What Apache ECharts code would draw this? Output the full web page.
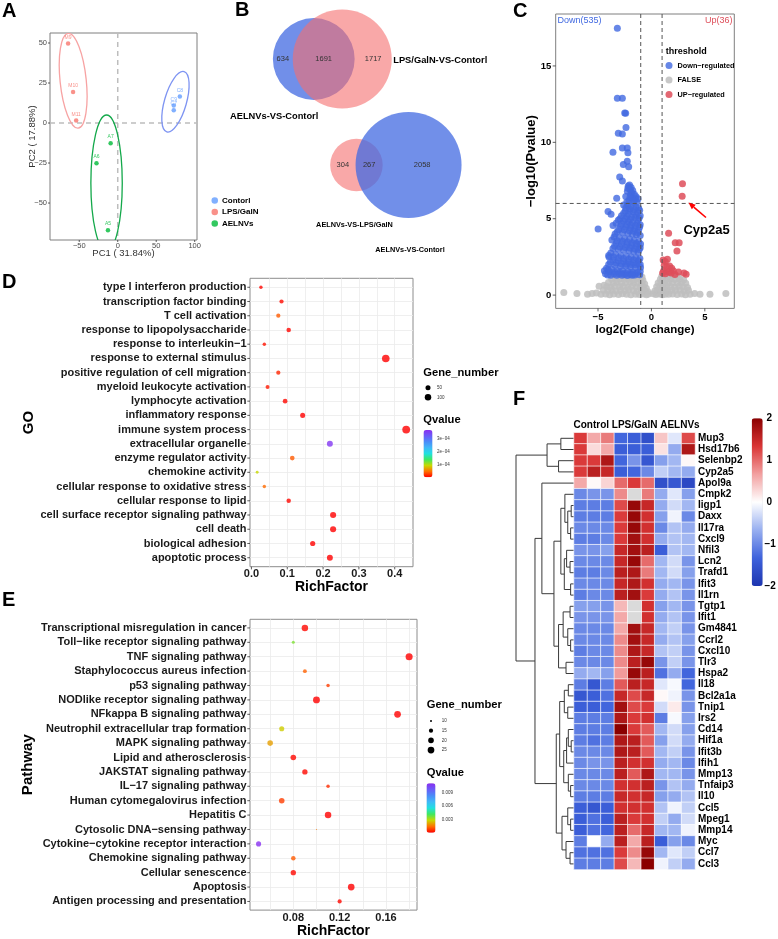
<!DOCTYPE html>
<html>
<head>
<meta charset="UTF-8">
<title>Transcriptome figure</title>
<script src="https://cdn.jsdelivr.net/npm/echarts@6.0.0/dist/echarts.min.js"></script>
<style>
  html, body { margin: 0; padding: 0; background: #fff; }
  #main { width: 778px; height: 939px; }
</style>
</head>
<body>
<div id="main"></div>
<script>
// ---------- A: PCA ----------
var pcaControl = [[80.7, 16.5, 'C8'], [72.8, 11.0, 'C9'], [72.8, 8.0, 'C7']];
var pcaLPS = [[-64.5, 49.7, 'M9'], [-58.0, 19.4, 'M10'], [-54.0, 1.5, 'M11']];
var pcaAEL = [[-9.2, -12.7, 'A7'], [-27.6, -25.2, 'A6'], [-12.7, -67.0, 'A5']];
// confidence ellipses: centre PC1, centre PC2, half width (PC1), half height (PC2), tilt (deg)
var pcaEllipses = [[75, 13.3, 14.3, 19.6, -16], [-57.9, 26.4, 17, 29.8, 6], [-14.5, -37.5, 20.4, 42.5, 0]];
var pcaXTicks = [-50, 0, 50, 100];
var pcaYTicks = [-50, -25, 0, 25, 50];
// reference lines: [0 = vertical at x / 1 = horizontal at y, value]
var pcaRefLines = [[0, 0], [1, 0]];

// ---------- B: Venn counts (only left, shared, only right) ----------
var vennTop = [634, 1691, 1717];
var vennBottom = [304, 267, 2058];

// ---------- C: volcano ----------
var downCount = 535, upCount = 36;
var fcCut = 1, pCut = 6;
var volcanoRefLines = [[0, -fcCut], [0, fcCut], [1, pCut]];
var volcanoDown = [
  [-3.19,17.47],[-3.19,12.88],[-2.72,12.88],[-2.5,11.92],[-2.41,11.9],[-2.38,10.97],[-3.1,10.6],[-2.72,10.55],
  [-3.6,9.35],[-2.72,9.63],[-2.26,9.63],[-2.2,9.31],[-2.63,8.55],[-2.13,8.4],[-2.26,8.76],[-2.97,7.73],
  [-2.72,7.47],[-2.17,7.14],[-2.0,6.93],[-3.25,6.34],[-4.06,5.47],[-3.78,5.3],[-4.99,4.33],[-3.59,4.55],
  [-3.4,4.0],[-3.97,2.49],[-4.06,1.67],[-3.8,1.3],
  [-2.05,7.2],[-1.9,7.05],[-2.25,6.8],[-1.75,6.85],[-1.95,6.6],[-1.6,6.6],[-2.4,6.45],[-1.8,6.35],[-1.5,6.3],
  [-2.1,6.2],[-1.35,6.1],[-1.65,6.05],
  [-2.6,5.9],[-2.2,5.85],[-1.9,5.8],[-1.45,5.75],[-1.2,5.7],[-2.45,5.5],[-2.0,5.5],[-1.7,5.45],[-1.3,5.4],
  [-2.8,5.2],[-2.3,5.15],[-1.85,5.1],[-1.55,5.1],[-1.15,5.05],
  [-3.1,4.9],[-2.6,4.85],[-2.15,4.8],[-1.75,4.75],[-1.35,4.7],[-1.05,4.6],[-2.9,4.5],[-2.4,4.45],[-1.95,4.4],
  [-1.55,4.35],[-1.2,4.25],[-3.2,4.15],[-2.7,4.1],[-2.2,4.05],[-1.8,4.0],[-1.4,3.95],[-1.05,3.9],
  [-3.5,3.8],[-3.0,3.75],[-2.5,3.7],[-2.05,3.65],[-1.6,3.6],[-1.2,3.5],[-3.3,3.4],[-2.8,3.35],[-2.3,3.3],
  [-1.85,3.25],[-1.4,3.2],[-1.05,3.1],[-3.6,3.05],[-3.1,3.0],[-2.6,2.95],[-2.1,2.9],[-1.65,2.85],[-1.25,2.8],
  [-3.8,2.75],[-3.35,2.65],[-2.85,2.6],[-2.35,2.55],[-1.9,2.5],[-1.45,2.45],[-1.08,2.4],[-3.6,2.3],[-3.1,2.25],
  [-2.6,2.2],[-2.15,2.15],[-1.7,2.1],[-1.25,2.05],[-4.0,2.0],[-3.4,1.95],[-2.9,1.9],[-2.4,1.9],[-1.95,1.85],
  [-1.5,1.8],[-1.02,1.8],
  [-4.2,1.75],[-3.7,1.7],[-3.2,1.6],[-2.7,1.6],[-2.2,1.55],[-1.75,1.5],[-1.3,1.5],[-4.3,1.4],[-3.5,1.4],
  [-3.0,1.38],[-2.5,1.35],[-2.0,1.35],[-1.55,1.32],[-1.1,1.33],
  [-2.2,7.0],[-1.85,6.7],[-1.45,6.45],[-2.0,6.4],[-1.25,6.3],[-1.7,6.2],[-2.3,6.1],
  [-2.4,5.7],[-2.05,5.65],[-1.6,5.6],[-1.1,5.55],[-2.6,5.35],[-2.15,5.3],[-1.45,5.25],[-1.05,5.2],
  [-2.95,5.0],[-2.45,4.98],[-1.95,4.95],[-1.25,4.9],
  [-3.3,4.7],[-2.8,4.65],[-2.3,4.62],[-1.9,4.58],[-1.5,4.55],[-1.1,4.45],[-3.05,4.3],[-2.55,4.28],
  [-2.05,4.22],[-1.65,4.18],[-1.3,4.1],
  [-3.7,3.6],[-3.2,3.55],[-2.7,3.52],[-2.25,3.48],[-1.8,3.42],[-1.4,3.38],[-1.02,3.35],[-3.45,3.2],
  [-2.95,3.15],[-2.45,3.12],[-2.0,3.08],[-1.55,3.02],[-1.15,2.98],
  [-4.0,2.6],[-3.55,2.5],[-3.05,2.45],[-2.6,2.4],[-2.1,2.35],[-1.65,2.3],[-1.2,2.25],[-3.85,2.15],
  [-3.3,2.1],[-2.8,2.05],[-2.35,2.02],[-1.9,2.0],[-1.45,1.98],[-1.05,2.0],
  [-4.4,1.6],[-3.95,1.55],[-3.45,1.52],[-2.95,1.5],[-2.45,1.45],[-1.95,1.45],[-1.5,1.42],[-1.05,1.55],
  [-4.1,1.32],[-3.25,1.3],[-2.75,1.3],[-2.25,1.28],[-1.8,1.3]
];
var volcanoNone = [
  [-8.2,0.17],[-6.97,0.1],[-5.98,0.06],[-5.55,0.1],[-5.15,0.14],[-4.9,0.58],[-4.43,0.65],
  [-4.72,0.05],[-4.28,0.08],[-3.91,0.03],[-3.52,0.07],[-3.08,0.04],[-2.71,0.09],[-2.33,0.05],[-1.92,0.02],
  [-1.48,0.06],[-1.12,0.04],[-0.77,0.07],[-0.46,0.03],
  [-4.5,0.32],[-4.07,0.28],[-3.68,0.35],[-3.31,0.27],[-2.9,0.33],[-2.47,0.29],[-2.12,0.36],[-1.69,0.3],
  [-1.33,0.26],[-0.96,0.34],[-0.62,0.28],[-0.33,0.22],
  [-4.18,0.56],[-3.83,0.52],[-3.42,0.6],[-2.98,0.54],[-2.63,0.58],[-2.19,0.51],[-1.81,0.59],[-1.41,0.53],
  [-1.06,0.57],[-0.72,0.55],[-0.48,0.45],
  [-4.02,0.83],[-3.58,0.79],[-3.21,0.85],[-2.82,0.78],[-2.38,0.82],[-2.01,0.86],[-1.63,0.8],[-1.27,0.84],
  [-0.92,0.81],[-0.63,0.72],
  [-3.72,1.06],[-3.29,1.02],[-2.91,1.08],[-2.52,1.03],[-2.08,1.07],[-1.72,1.01],[-1.36,1.09],[-1.02,1.04],[-0.8,0.98],
  [-3.03,1.24],[-2.61,1.27],[-2.24,1.22],[-1.79,1.26],[-1.42,1.21],[-1.07,1.25],[-0.88,1.18],
  [-0.28,0.08],[0.17,0.09],
  [0.41,0.04],[0.72,0.07],[1.03,0.03],[1.31,0.06],[1.62,0.05],[1.98,0.08],[2.41,0.04],[2.83,0.07],[3.19,0.03],
  [3.62,0.06],[4.05,0.1],[4.55,0.06],[5.48,0.06],[6.97,0.1],
  [0.32,0.27],[0.58,0.33],[0.91,0.29],[1.22,0.35],[1.51,0.28],[1.88,0.32],[2.27,0.3],[2.69,0.34],[3.08,0.27],[3.47,0.31],
  [0.49,0.55],[0.81,0.6],[1.12,0.53],[1.43,0.58],[1.79,0.56],[2.18,0.52],[2.61,0.59],[2.98,0.54],[3.38,0.5],
  [0.63,0.8],[0.92,0.84],[1.21,0.78],[1.58,0.83],[1.97,0.81],[2.42,0.79],[2.81,0.85],[3.21,0.77],
  [0.84,1.04],[1.07,1.08],[1.39,1.02],[1.82,1.06],[2.21,1.03],[2.63,1.07],[3.02,1.01],
  [0.97,1.24],[1.23,1.27],[1.61,1.22],[2.04,1.25],[2.47,1.23]
];
var volcanoUp = [
  [2.91,7.29],[2.88,6.47],[1.61,4.05],[2.23,3.42],[2.6,3.42],[2.39,2.88],[1.1,2.3],[1.3,2.2],[1.5,2.35],
  [1.2,1.95],[1.45,1.85],[1.7,1.9],[1.9,1.75],[1.15,1.6],[1.4,1.55],[1.65,1.5],[1.85,1.45],[2.05,1.6],
  [1.3,1.4],[2.54,1.51],[3.25,1.36],[3.05,1.45],[2.2,1.35],[1.05,1.45]
];
// annotation arrow for Cyp2a5: from (x, y) to (x, y)
var cypArrow = [[5.11, 5.08, 3.47, 6.06]];
var volcanoXTicks = [-5, 0, 5];
var volcanoYTicks = [0, 5, 10, 15];

// ---------- D: GO enrichment ----------
var goTerms = ['type I interferon production', 'transcription factor binding', 'T cell activation',
  'response to lipopolysaccharide', 'response to interleukin\u22121', 'response to external stimulus',
  'positive regulation of cell migration', 'myeloid leukocyte activation', 'lymphocyte activation',
  'inflammatory response', 'immune system process', 'extracellular organelle', 'enzyme regulator activity',
  'chemokine activity', 'cellular response to oxidative stress', 'cellular response to lipid',
  'cell surface receptor signaling pathway', 'cell death', 'biological adhesion', 'apoptotic process'];
var goRich = [0.0265, 0.084, 0.075, 0.104, 0.036, 0.375, 0.075, 0.045, 0.094, 0.143,
  0.432, 0.219, 0.114, 0.016, 0.036, 0.104, 0.228, 0.228, 0.171, 0.219];
var goQ = [2e-6, 4e-6, 3.7e-5, 2e-6, 8e-6, 1e-9, 1.5e-5, 1e-5, 3e-6, 1e-7,
  1e-12, 3.6e-4, 3.7e-5, 9.3e-5, 4.4e-5, 3e-6, 1e-7, 1e-7, 1e-6, 1e-7];
var goCount = [15, 30, 30, 35, 15, 150, 30, 25, 40, 50, 160, 80, 40, 8, 15, 35, 85, 85, 55, 80];
var goXTicks = [0, 0.1, 0.2, 0.3, 0.4];
var goGridX = [0.05, 0.1, 0.15, 0.2, 0.25, 0.3, 0.35, 0.4];
var goSizeLegend = [50, 100];
var goQTicks = [1e-4, 2e-4, 3e-4];

// ---------- E: KEGG enrichment ----------
var keggTerms = ['Transcriptional misregulation in cancer', 'Toll\u2212like receptor signaling pathway',
  'TNF signaling pathway', 'Staphylococcus aureus infection', 'p53 signaling pathway',
  'NODlike receptor signaling pathway', 'NFkappa B signaling pathway', 'Neutrophil extracellular trap formation',
  'MAPK signaling pathway', 'Lipid and atherosclerosis', 'JAKSTAT signaling pathway', 'IL\u221217 signaling pathway',
  'Human cytomegalovirus infection', 'Hepatitis C', 'Cytosolic DNA\u2212sensing pathway',
  'Cytokine\u2212cytokine receptor interaction', 'Chemokine signaling pathway', 'Cellular senescence',
  'Apoptosis', 'Antigen processing and presentation'];
var keggRich = [0.09, 0.08, 0.18, 0.09, 0.11, 0.10, 0.17, 0.07, 0.06, 0.08,
  0.09, 0.11, 0.07, 0.11, 0.10, 0.05, 0.08, 0.08, 0.13, 0.12];
var keggQ = [0.0002, 0.0036, 0.0001, 0.0013, 0.00085, 0.0001, 0.0001, 0.0027, 0.0021, 0.0002,
  0.0002, 0.00064, 0.00085, 0.0001, 0.0016, 0.0110, 0.0012, 0.0002, 0.0001, 0.0002];
var keggCount = [24, 12, 27, 14, 13, 26, 25, 18, 20, 20, 19, 13, 20, 24, 9, 18, 16, 19, 25, 15];
var keggXTicks = [0.08, 0.12, 0.16];
var keggGridX = [0.06, 0.08, 0.10, 0.12, 0.14, 0.16, 0.18];
var keggSizeLegend = [10, 15, 20, 25];
var keggQTicks = [0.003, 0.006, 0.009];

// ---------- F: heatmap ----------
var heatSamples = ['C7', 'C8', 'C9', 'M9', 'M10', 'M11', 'A5', 'A6', 'A7'];
var heatGenes = ['Mup3', 'Hsd17b6', 'Selenbp2', 'Cyp2a5', 'Apol9a', 'Cmpk2', 'Iigp1', 'Daxx', 'Il17ra', 'Cxcl9',
  'Nfil3', 'Lcn2', 'Trafd1', 'Ifit3', 'Il1rn', 'Tgtp1', 'Ifit1', 'Gm4841', 'Ccrl2', 'Cxcl10', 'Tlr3', 'Hspa2',
  'Il18', 'Bcl2a1a', 'Tnip1', 'Irs2', 'Cd14', 'Hif1a', 'Ifit3b', 'Ifih1', 'Mmp13', 'Tnfaip3', 'Il10', 'Ccl5',
  'Mpeg1', 'Mmp14', 'Myc', 'Ccl7', 'Ccl3'];
var heatValues = [
  [1.3, 0.6, 0.9, -1.3, -1.4, -1.6, 0.4, -0.2, 1.2],
  [1.3, 0.25, 0.6, -1.4, -1.4, -1.4, 0.2, -0.7, 1.7],
  [1.3, 1.3, 1.7, -1.3, -0.9, -1.5, -0.8, -0.6, 0.05],
  [1.3, 1.6, 1.5, -1.4, -1.3, -1.0, -0.4, -0.6, -0.7],
  [0.6, 0.05, 0.3, 1.0, 1.3, 1.0, -1.6, -1.5, -1.7],
  [-1.0, -0.9, -0.9, 0.8, null, 0.9, -0.7, -0.2, -0.8],
  [-1.1, -1.1, -1.1, 1.2, 1.9, 1.5, -0.7, -0.3, -0.6],
  [-1.1, -1.1, -1.1, 1.3, 1.9, 1.4, -0.8, -0.1, -1.0],
  [-1.0, -1.0, -1.0, 1.3, 1.9, 1.4, -1.0, -0.5, -0.7],
  [-1.1, -1.1, -1.0, 1.3, 1.8, 1.4, -0.7, -0.5, -0.6],
  [-0.9, -0.9, -0.8, 1.5, 1.8, 1.6, -1.4, -0.5, -0.6],
  [-1.0, -1.0, -1.0, 1.5, 1.9, 1.0, -0.6, -0.3, -0.9],
  [-1.1, -1.1, -1.0, 1.6, 1.7, 0.9, -0.6, -0.3, -0.8],
  [-1.0, -1.0, -1.0, 1.5, 1.7, 1.4, -0.7, -0.6, -0.9],
  [-1.1, -1.0, -1.0, 1.6, 1.8, 1.3, -0.7, -0.5, -0.9],
  [-0.8, -0.8, -0.9, 0.5, null, 1.4, -0.8, -0.6, -0.9],
  [-0.9, -0.9, -0.9, 0.6, null, 1.4, -0.7, -0.5, -0.9],
  [-1.0, -1.0, -1.0, 0.6, 1.8, 1.5, -0.6, -0.4, -0.9],
  [-1.0, -1.0, -1.0, 0.8, 1.8, 1.5, -0.7, -0.5, -0.8],
  [-1.1, -1.0, -1.0, 0.8, 1.7, 1.5, -0.5, -0.4, -0.9],
  [-1.0, -1.0, -1.0, 0.8, 1.6, 1.9, -0.9, -0.4, -0.9],
  [-0.7, -0.6, -0.8, 0.7, 1.9, 1.6, -1.2, -0.7, -1.3],
  [-1.1, -1.5, -1.1, 1.1, 1.6, 1.5, -0.2, -0.05, -1.3],
  [-1.5, -1.4, -1.2, 1.5, 1.2, 1.5, 0.05, -0.1, -0.9],
  [-1.4, -1.4, -1.3, 1.8, 1.2, 1.3, -0.3, 0.15, -0.9],
  [-1.1, -1.1, -1.1, 1.7, 1.3, 1.4, -1.1, -0.05, -0.8],
  [-1.1, -1.1, -1.1, 2.0, 1.3, 1.1, -0.6, -0.3, -0.8],
  [-1.1, -1.2, -1.1, 1.7, 1.6, 1.1, -0.8, -0.3, -0.7],
  [-1.0, -1.0, -1.0, 1.7, 1.6, 1.1, -0.6, -0.4, -0.9],
  [-1.0, -0.9, -0.9, 1.6, 1.4, 1.4, -0.7, -0.6, -1.0],
  [-1.0, -1.0, -1.0, 1.6, 1.1, 1.7, -0.6, -0.6, -0.9],
  [-1.0, -1.0, -1.0, 1.4, 1.4, 1.6, -0.9, -0.5, -0.7],
  [-1.1, -1.1, -1.1, 1.5, 1.4, 1.5, -0.8, -0.7, -0.5],
  [-1.4, -1.5, -1.4, 1.4, 1.4, 1.4, -0.5, -0.1, -0.4],
  [-1.4, -1.2, -1.4, 1.6, 1.3, 1.4, -0.4, -0.7, -0.3],
  [-1.4, -1.2, -1.3, 1.6, 1.0, 1.5, -0.6, -0.6, -0.1],
  [-1.1, 0.0, -0.7, 1.6, 0.6, 1.6, -1.4, -0.8, -1.0],
  [-1.2, -1.2, -1.2, 1.3, 0.8, 1.9, -0.6, -0.2, -0.4],
  [-1.1, -1.1, -1.1, 1.2, 0.5, 2.0, -0.1, -0.4, -0.7]
];
var heatTicks = [-2, -1, 0, 1, 2];
// row clustering: [child, child, height]; a string is a gene, a number an earlier merge
var dendroMerges = [
  ['Mup3', 'Hsd17b6', 2.2], ['Selenbp2', 'Cyp2a5', 2.6], [0, 1, 4.6],
  ['Iigp1', 'Daxx', 0.4], ['Il17ra', 'Cxcl9', 0.5], [3, 4, 1.0], ['Cmpk2', 5, 1.5],
  ['Lcn2', 'Trafd1', 0.6], ['Nfil3', 7, 1.2], ['Ifit3', 'Il1rn', 0.5], [8, 9, 1.6], [6, 10, 2.2],
  ['Tgtp1', 'Ifit1', 0.6], ['Ccrl2', 'Cxcl10', 0.5], ['Gm4841', 13, 1.0], [12, 14, 1.8],
  ['Tlr3', 'Hspa2', 1.3], [15, 16, 2.6], [11, 17, 3.4], ['Apol9a', 18, 5.5],
  ['Il18', 'Bcl2a1a', 0.9], ['Tnip1', 'Irs2', 1.0], [20, 21, 1.6],
  ['Hif1a', 'Ifit3b', 0.4], ['Cd14', 23, 0.9], [24, 'Ifih1', 1.2],
  ['Tnfaip3', 'Il10', 0.5], ['Mmp13', 26, 0.9], [25, 27, 1.7], [22, 28, 2.4],
  ['Mpeg1', 'Mmp14', 0.5], ['Ccl5', 30, 1.0], ['Ccl7', 'Ccl3', 0.6], ['Myc', 32, 1.3],
  [31, 33, 2.0], [29, 34, 3.0], [19, 35, 6.7], [2, 36, 10]
];

// ---------- helpers ----------
var FONT = '"Liberation Sans", Arial, Helvetica, sans-serif';
var qColors = ['#FF0000', '#FF7000', '#C8D800', '#40E860', '#20E0E0', '#40B8F8', '#4A8CF8', '#6A5CF8', '#8A2EF0'];
var heatColors = ['#1d35b0', '#3e62dc', '#98aff0', '#ffffff', '#f2a0a0', '#d93535', '#8b0000'];
var ellipseColors = ['#7E94F2', '#F7A3A3', '#13A84A'];

function goSize(n) { return 1.5 + 0.5 * Math.sqrt(n); }
function keggSize(n) { return Math.sqrt(Math.max(1, 2.73 * n - 23.3)); }
function minus(v) { return String(v).replace('-', '\u2212'); }
function indexList(arr) { return arr.map(function (t, i) { return i; }); }

function txt(text, x, y, size, bold, color, align) {
  return {
    type: 'text', x: x, y: y, silent: true,
    style: {
      text: text, fontSize: size, fontWeight: bold ? 'bold' : 'normal', fontFamily: FONT,
      fill: color || '#000', align: align || 'left', verticalAlign: 'middle',
      textAlign: align || 'left', textVerticalAlign: 'middle'
    }
  };
}

function lensArea(r1, r2, d) {
  if (d >= r1 + r2) return 0;
  if (d <= Math.abs(r1 - r2)) return Math.PI * Math.pow(Math.min(r1, r2), 2);
  var a1 = Math.acos((d * d + r1 * r1 - r2 * r2) / (2 * d * r1));
  var a2 = Math.acos((d * d + r2 * r2 - r1 * r1) / (2 * d * r2));
  var k = Math.sqrt((-d + r1 + r2) * (d + r1 - r2) * (d - r1 + r2) * (d + r1 + r2));
  return r1 * r1 * a1 + r2 * r2 * a2 - 0.5 * k;
}
function vennDistance(r1, r2, area) {
  var lo = Math.abs(r1 - r2), hi = r1 + r2;
  for (var i = 0; i < 60; i++) {
    var mid = (lo + hi) / 2;
    if (lensArea(r1, r2, mid) > area) lo = mid; else hi = mid;
  }
  return (lo + hi) / 2;
}
// area proportional two-set venn, placed around the midpoint of the two centres
function venn(counts, midX, cy, maxR, leftColor, rightColor) {
  var sizeL = counts[0] + counts[1], sizeR = counts[1] + counts[2];
  var k = maxR / Math.sqrt(Math.max(sizeL, sizeR));
  var rL = k * Math.sqrt(sizeL), rR = k * Math.sqrt(sizeR);
  var d = vennDistance(rL, rR, Math.PI * k * k * counts[1]);
  var xL = midX - d / 2, xR = midX + d / 2;
  var els = [
    { type: 'circle', silent: true, shape: { cx: xL, cy: cy, r: rL }, style: { fill: leftColor } },
    { type: 'circle', silent: true, shape: { cx: xR, cy: cy, r: rR }, style: { fill: rightColor } }
  ];
  var xs = [((xL - rL) + (xR - rR)) / 2, ((xR - rR) + (xL + rL)) / 2, ((xL + rL) + (xR + rR)) / 2];
  counts.forEach(function (c, i) { els.push(txt(String(c), xs[i], cy, 7.5, false, '#333', 'center')); });
  return { els: els, xL: xL, xR: xR, rL: rL, rR: rR };
}

function dendroNode(ref) {
  if (typeof ref === 'string') return { y: heatGenes.indexOf(ref), h: 0 };
  var m = dendroMerges[ref];
  var a = dendroNode(m[0]), b = dendroNode(m[1]);
  return { y: (a.y + b.y) / 2, h: m[2] };
}

// dashed reference lines across a panel, one per data item
function refLineSeries(gridIdx, lines, color, dash, width, z) {
  return {
    type: 'custom', xAxisIndex: gridIdx, yAxisIndex: gridIdx, silent: true, z: z, data: lines,
    renderItem: function (params, api) {
      var cs = params.coordSys;
      var vertical = api.value(0) === 0;
      var p = api.coord(vertical ? [api.value(1), 0] : [0, api.value(1)]);
      var shape = vertical
        ? { x1: p[0], y1: cs.y, x2: p[0], y2: cs.y + cs.height }
        : { x1: cs.x, y1: p[1], x2: cs.x + cs.width, y2: p[1] };
      return { type: 'line', shape: shape, style: { stroke: color, lineWidth: width, lineDash: dash } };
    }
  };
}

// ---------- layout ----------
var grids = [
  { left: 50, top: 33, width: 147, height: 207, show: true, borderColor: '#7F7F7F', borderWidth: 1 },
  { left: 555.7, top: 14, width: 178.6, height: 294.4, show: true, borderColor: '#7F7F7F', borderWidth: 1 },
  { left: 250, top: 278.3, width: 163, height: 288.4, show: true, borderColor: '#8C8C8C', borderWidth: 1 },
  { left: 250, top: 619.3, width: 167, height: 293.4, show: true, borderColor: '#8C8C8C', borderWidth: 1 },
  { left: 574, top: 432.7, width: 121, height: 436.8 },
  { left: 516, top: 432.7, width: 57.5, height: 436.8 }
];

// ---------- series ----------
var series = [];

series.push(refLineSeries(0, pcaRefLines, '#BDBDBD', [5, 4], 1.5, 1));
series.push({
  type: 'custom', name: 'ellipse', xAxisIndex: 0, yAxisIndex: 0, clip: true, silent: true, z: 1,
  data: pcaEllipses,
  renderItem: function (params, api) {
    var c = api.coord([api.value(0), api.value(1)]);
    var s = api.size([api.value(2), api.value(3)]);
    return {
      type: 'ellipse', x: c[0], y: c[1], rotation: api.value(4) * Math.PI / 180,
      shape: { cx: 0, cy: 0, rx: s[0], ry: s[1] },
      style: { fill: 'none', stroke: ellipseColors[params.dataIndex], lineWidth: 1.3 }
    };
  }
});

function pcaSeries(name, data, color) {
  return {
    name: name, type: 'scatter', xAxisIndex: 0, yAxisIndex: 0, data: data, symbolSize: 4.5, z: 3,
    itemStyle: { color: color },
    label: { show: true, position: 'top', distance: 1.5, fontSize: 5, color: color, fontFamily: FONT,
      formatter: function (p) { return p.data[2]; } }
  };
}
series.push(pcaSeries('Contorl', pcaControl, '#619CFF'));
series.push(pcaSeries('LPS/GalN', pcaLPS, '#F8766D'));
series.push(pcaSeries('AELNVs', pcaAEL, '#00BA38'));

series.push({
  name: 'FALSE', type: 'scatter', xAxisIndex: 1, yAxisIndex: 1, data: volcanoNone, symbolSize: 7,
  itemStyle: { color: '#BEBEBE', opacity: 0.85 }
});
series.push({
  name: 'Down\u2212regulated', type: 'scatter', xAxisIndex: 1, yAxisIndex: 1, data: volcanoDown, symbolSize: 7,
  itemStyle: { color: '#4169E1', opacity: 0.8 }
});
series.push({
  name: 'UP\u2212regulated', type: 'scatter', xAxisIndex: 1, yAxisIndex: 1, data: volcanoUp, symbolSize: 7,
  itemStyle: { color: '#DE4E5A', opacity: 0.85 }
});
series.push(refLineSeries(1, volcanoRefLines, '#555', [4, 3], 1, 4));
series.push({
  type: 'custom', xAxisIndex: 1, yAxisIndex: 1, silent: true, z: 5, data: cypArrow,
  renderItem: function (params, api) {
    var a = api.coord([api.value(0), api.value(1)]);
    var b = api.coord([api.value(2), api.value(3)]);
    var dx = b[0] - a[0], dy = b[1] - a[1], len = Math.sqrt(dx * dx + dy * dy);
    var ux = dx / len, uy = dy / len, head = 7, half = 3;
    var base = [b[0] - ux * head, b[1] - uy * head];
    return {
      type: 'group', children: [
        { type: 'line', shape: { x1: a[0], y1: a[1], x2: base[0], y2: base[1] }, style: { stroke: '#FF0000', lineWidth: 1.6 } },
        { type: 'polygon', shape: { points: [b, [base[0] - uy * half, base[1] + ux * half], [base[0] + uy * half, base[1] - ux * half]] },
          style: { fill: '#FF0000' } }
      ]
    };
  }
});

var goIdx = series.length;
series.push({
  type: 'scatter', xAxisIndex: 2, yAxisIndex: 2, z: 3,
  data: goTerms.map(function (t, i) { return [goRich[i], i, goQ[i], goCount[i]]; }),
  symbolSize: function (v) { return goSize(v[3]); },
  markLine: {
    silent: true, symbol: 'none', z: 1, label: { show: false },
    lineStyle: { color: '#EBEBEB', width: 0.8, type: 'solid' },
    data: goGridX.map(function (v) { return { xAxis: v }; })
      .concat(indexList(goTerms).map(function (i) { return { yAxis: i }; }))
  }
});

var keggIdx = series.length;
series.push({
  type: 'scatter', xAxisIndex: 3, yAxisIndex: 3, z: 3,
  data: keggTerms.map(function (t, i) { return [keggRich[i], i, keggQ[i], keggCount[i]]; }),
  symbolSize: function (v) { return keggSize(v[3]); },
  markLine: {
    silent: true, symbol: 'none', z: 1, label: { show: false },
    lineStyle: { color: '#EBEBEB', width: 0.8, type: 'solid' },
    data: keggGridX.map(function (v) { return { xAxis: v }; })
      .concat(indexList(keggTerms).map(function (i) { return { yAxis: i }; }))
  }
});

var heatData = [], heatNA = [];
heatValues.forEach(function (row, r) {
  row.forEach(function (v, c) {
    if (v === null) heatNA.push([c, r, 0]); else heatData.push([c, r, v]);
  });
});
var heatIdx = series.length;
series.push({
  type: 'heatmap', xAxisIndex: 4, yAxisIndex: 4, data: heatData,
  itemStyle: { borderColor: 'rgba(255,255,255,0.85)', borderWidth: 0.8 }
});
series.push({
  type: 'heatmap', xAxisIndex: 4, yAxisIndex: 4, data: heatNA,
  itemStyle: { color: '#DADADA', borderColor: 'rgba(255,255,255,0.85)', borderWidth: 0.8 }
});
series.push({
  type: 'custom', xAxisIndex: 5, yAxisIndex: 5, silent: true,
  data: dendroMerges.map(function (m, i) { return [i]; }),
  renderItem: function (params, api) {
    var m = dendroMerges[api.value(0)];
    var a = dendroNode(m[0]), b = dendroNode(m[1]);
    return {
      type: 'polyline',
      shape: { points: [api.coord([a.h, a.y]), api.coord([m[2], a.y]), api.coord([m[2], b.y]), api.coord([b.h, b.y])] },
      style: { stroke: '#3a3a3a', fill: 'none', lineWidth: 1 }
    };
  }
});

// ---------- axes ----------
// A and C axes are hidden; their labels, names and ticks are drawn below from the axis scales
function edgeLine() { return { show: true, onZero: false, lineStyle: { color: 'rgba(0,0,0,0)' } }; }
var noTick = { show: false };
var xAxes = [
  { gridIndex: 0, type: 'value', min: -88, max: 103, show: false },
  { gridIndex: 1, type: 'value', min: -8.96, max: 7.76, show: false },
  { gridIndex: 2, type: 'value', min: -0.004, max: 0.451, splitLine: { show: false }, axisLine: edgeLine(), axisTick: noTick,
    axisLabel: { customValues: goXTicks, formatter: function (v) { return v.toFixed(1); },
      fontSize: 11, fontWeight: 'bold', color: '#1A1A1A', margin: 2 },
    name: 'RichFactor', nameLocation: 'middle', nameGap: 13,
    nameTextStyle: { fontSize: 14, fontWeight: 'bold', color: '#000' } },
  { gridIndex: 3, type: 'value', min: 0.0426, max: 0.1868, splitLine: { show: false }, axisLine: edgeLine(), axisTick: noTick,
    axisLabel: { customValues: keggXTicks, formatter: function (v) { return v.toFixed(2); },
      fontSize: 11, fontWeight: 'bold', color: '#1A1A1A', margin: 2 },
    name: 'RichFactor', nameLocation: 'middle', nameGap: 13,
    nameTextStyle: { fontSize: 14, fontWeight: 'bold', color: '#000' } },
  { gridIndex: 4, type: 'category', data: heatSamples, show: false },
  { gridIndex: 5, type: 'value', min: 0, max: 10, inverse: true, show: false }
];
var yAxes = [
  { gridIndex: 0, type: 'value', min: -73.1, max: 56.25, show: false },
  { gridIndex: 1, type: 'value', min: -0.87, max: 18.4, show: false },
  { gridIndex: 2, type: 'value', min: -0.63, max: 19.63, inverse: true, splitLine: { show: false }, axisLine: edgeLine(), axisTick: noTick,
    axisLabel: { customValues: indexList(goTerms), formatter: function (v) { return goTerms[Math.round(v)]; },
      fontSize: 11, fontWeight: 'bold', color: '#1A1A1A', margin: 3.5 },
    name: 'GO', nameLocation: 'middle', nameGap: 213, nameTextStyle: { fontSize: 15, fontWeight: 'bold', color: '#000' } },
  { gridIndex: 3, type: 'value', min: -0.6, max: 19.6, inverse: true, splitLine: { show: false }, axisLine: edgeLine(), axisTick: noTick,
    axisLabel: { customValues: indexList(keggTerms), formatter: function (v) { return keggTerms[Math.round(v)]; },
      fontSize: 11, fontWeight: 'bold', color: '#1A1A1A', margin: 3.5 },
    name: 'Pathway', nameLocation: 'middle', nameGap: 215, nameTextStyle: { fontSize: 15, fontWeight: 'bold', color: '#000' } },
  { gridIndex: 4, type: 'category', data: heatGenes, inverse: true, position: 'right',
    axisLine: { show: false }, axisTick: { show: false },
    axisLabel: { interval: 0, fontSize: 10, fontWeight: 'bold', color: '#000', margin: 3 } },
  { gridIndex: 5, type: 'value', min: -0.5, max: heatGenes.length - 0.5, inverse: true, show: false }
];
// [grid, axis, values, tick length]
var tickSpecs = [
  [0, 'x', pcaXTicks, 2], [0, 'y', pcaYTicks, 2],
  [1, 'x', volcanoXTicks, 3], [1, 'y', volcanoYTicks, 3],
  [2, 'x', goXTicks, 2.7], [2, 'y', indexList(goTerms), 2.7],
  [3, 'x', keggXTicks, 2.7], [3, 'y', indexList(keggTerms), 2.7]
];
// tick label styles for the hidden A / C axes: [size, bold, color, gap to y labels, gap to x labels]
var tickLabelStyle = { 0: [7.5, false, '#4D4D4D', 3, 2], 1: [9.5, true, '#000', 4.5, 4] };

// ---------- graphic: letters, venn, legends ----------
var graphics = [];
[['A', 2, 11.5], ['B', 235, 10.5], ['C', 513, 11], ['D', 2, 282], ['E', 2, 600], ['F', 513, 399]]
  .forEach(function (l) { graphics.push(txt(l[0], l[1], l[2], 20, true, '#000')); });

var vt = venn(vennTop, 328, 59, 49.5, 'rgba(65,105,225,0.75)', 'rgba(245,110,110,0.6)');
var vb = venn(vennBottom, 382.5, 165, 53, 'rgba(245,110,110,0.6)', 'rgba(65,105,225,0.75)');
graphics = graphics.concat(vt.els, vb.els);
graphics.push(txt('LPS/GalN-VS-Contorl', vt.xR + vt.rR + 1.5, 60, 9.3, true));
graphics.push(txt('AELNVs-VS-Contorl', 230, 116, 9.3, true));
graphics.push(txt('AELNVs-VS-LPS/GalN', vb.xL - 2, 225, 7.3, true, '#000', 'center'));
graphics.push(txt('AELNVs-VS-Contorl', 410, 250, 7.3, true, '#000', 'center'));

graphics.push(txt('Down(' + downCount + ')', 557.5, 20.7, 9, false, '#4169E1'));
graphics.push(txt('Up(' + upCount + ')', 732.5, 20.7, 9, false, '#DE4E5A', 'right'));
graphics.push(txt('threshold', 665.7, 51.7, 9, true));
graphics.push(txt('Cyp2a5', 706.5, 230, 13, true, '#000', 'center'));

// axis names of A and C
var gA = grids[0], gC = grids[1];
graphics.push(txt('PC1 ( 31.84%)', gA.left + gA.width / 2, 253.5, 9.5, false, '#333', 'center'));
graphics.push(txt('log2(Fold change)', gC.left + gC.width / 2, 330, 11.5, true, '#000', 'center'));
var nameA = txt('PC2 ( 17.88%)', 32, gA.top + gA.height / 2, 9.5, false, '#333', 'center');
nameA.rotation = Math.PI / 2;
var nameC = txt('\u2212log10(Pvalue)', 531.7, gC.top + gC.height / 2, 13, true, '#000', 'center');
nameC.rotation = Math.PI / 2;
graphics.push(nameA, nameC);

// GO legends
graphics.push(txt('Gene_number', 423.3, 373.3, 11.2, true));
goSizeLegend.forEach(function (n, i) {
  graphics.push({ type: 'circle', silent: true, shape: { cx: 428, cy: 387.7 + i * 9.6, r: goSize(n) / 2 }, style: { fill: '#000' } });
  graphics.push(txt(String(n), 437, 387.7 + i * 9.6, 4.5, false, '#333'));
});
graphics.push(txt('Qvalue', 423.3, 420, 11.2, true));
goQTicks.forEach(function (v) {
  graphics.push(txt(v.toExponential(0).replace('e-', 'e\u22120'), 437, 430 + (3.7e-4 - v) / 3.7e-4 * 47.3, 4.5, false, '#333'));
});

// KEGG legends
graphics.push(txt('Gene_number', 426.7, 705, 11.2, true));
keggSizeLegend.forEach(function (n, i) {
  graphics.push({ type: 'circle', silent: true, shape: { cx: 431, cy: 721 + i * 9.7, r: keggSize(n) / 2 }, style: { fill: '#000' } });
  graphics.push(txt(String(n), 441.7, 721 + i * 9.7, 4.5, false, '#333'));
});
graphics.push(txt('Qvalue', 426.7, 773, 11.2, true));
keggQTicks.forEach(function (v) {
  graphics.push(txt(v.toFixed(3), 441.7, 783.3 + (0.0111 - v) / 0.011 * 49.4, 4.5, false, '#333'));
});

// heatmap header and colour bar labels
graphics.push(txt('Control LPS/GalN AELNVs', 573.5, 425, 10, true));
heatTicks.forEach(function (v) {
  graphics.push(txt(minus(v), v < 0 ? 764.5 : 766.5, 418.3 + (2 - v) / 4 * 167.7, 10, true));
});

// ---------- chart ----------
var chart = echarts.init(document.getElementById('main'));
chart.setOption({
  animation: false,
  backgroundColor: '#fff',
  textStyle: { fontFamily: FONT },
  grid: grids,
  xAxis: xAxes,
  yAxis: yAxes,
  legend: [
    { data: ['Contorl', 'LPS/GalN', 'AELNVs'], orient: 'vertical', left: 211.5, top: 196.5, padding: 0,
      itemWidth: 6.5, itemHeight: 6.5, itemGap: 3.5, icon: 'circle', selectedMode: false,
      textStyle: { fontSize: 8, fontWeight: 'bold', color: '#000', padding: [0, 0, 0, -1] } },
    { data: ['Down\u2212regulated', 'FALSE', 'UP\u2212regulated'], orient: 'vertical', left: 665.5, top: 62, padding: 0,
      itemWidth: 7, itemHeight: 7, itemGap: 7.5, icon: 'circle', selectedMode: false,
      textStyle: { fontSize: 7.3, fontWeight: 'bold', color: '#000' } }
  ],
  visualMap: [
    { type: 'continuous', seriesIndex: goIdx, dimension: 2, min: 0, max: 3.7e-4, calculable: false,
      inRange: { color: qColors }, left: 423.5, top: 430, itemWidth: 9, itemHeight: 47.3, padding: 0,
      text: null, hoverLink: false },
    { type: 'continuous', seriesIndex: keggIdx, dimension: 2, min: 0.0001, max: 0.0111, calculable: false,
      inRange: { color: qColors }, left: 426.5, top: 783.3, itemWidth: 9, itemHeight: 49.4, padding: 0,
      text: null, hoverLink: false },
    { type: 'continuous', seriesIndex: heatIdx, dimension: 2, min: -2, max: 2, calculable: false,
      inRange: { color: heatColors }, left: 751.7, top: 418.3, itemWidth: 11, itemHeight: 167.7, padding: 0,
      text: null, hoverLink: false }
  ],
  graphic: { elements: graphics },
  series: series
});

// axis ticks outside each panel frame, and the A / C tick labels, positioned by the axis scales
var extraEls = [];
tickSpecs.forEach(function (t) {
  var g = grids[t[0]], ls = tickLabelStyle[t[0]];
  t[2].forEach(function (v) {
    if (t[1] === 'x') {
      var px = chart.convertToPixel({ xAxisIndex: t[0] }, v);
      var y0 = g.top + g.height;
      extraEls.push({ type: 'line', silent: true, shape: { x1: px, y1: y0, x2: px, y2: y0 + t[3] },
        style: { stroke: '#333', lineWidth: 0.8 } });
      if (ls) extraEls.push(txt(minus(v), px, y0 + ls[4] + ls[0] / 2, ls[0], ls[1], ls[2], 'center'));
    } else {
      var py = chart.convertToPixel({ yAxisIndex: t[0] }, v);
      extraEls.push({ type: 'line', silent: true, shape: { x1: g.left - t[3], y1: py, x2: g.left, y2: py },
        style: { stroke: '#333', lineWidth: 0.8 } });
      if (ls) extraEls.push(txt(minus(v), g.left - ls[3], py, ls[0], ls[1], ls[2], 'right'));
    }
  });
});
chart.setOption({ graphic: { elements: graphics.concat(extraEls) } });
</script>
</body>
</html>
